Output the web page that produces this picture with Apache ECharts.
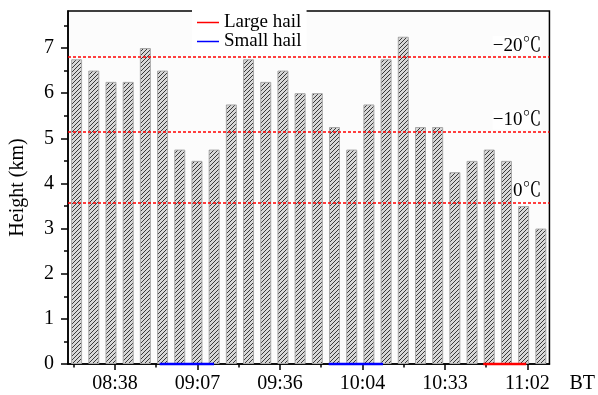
<!DOCTYPE html>
<html><head><meta charset="utf-8">
<script src="https://cdn.jsdelivr.net/npm/echarts@6/dist/echarts.min.js"></script>
<style>html,body{margin:0;padding:0;background:#fff}#c{width:598px;height:395px}</style>
</head><body><div id="c"></div>
<script>
// radar volume scans (6-min interval), echo-top heights in km
const scans = ['1','2','3','4','5','6','7','8','9','10','11','12','13','14','15','16','17','18','19','20','21','22','23','24','25','26','27','28'];
const heights = [6.75,6.5,6.25,6.25,7.0,6.5,4.75,4.5,4.75,5.75,6.75,6.25,6.5,6.0,6.0,5.25,4.75,5.75,6.75,7.25,5.25,5.25,4.25,4.5,4.75,4.5,3.5,3.0];
// isotherm heights (km) and labels
const isoHeights = [6.8, 5.15, 3.58];
const isoLabels = ['\u221220\u2103', '\u221210\u2103', '0\u2103'];
// time axis (fraction of a day, BT)
const timeMin = 0.34862, timeMax = 0.46534;
const timeTicks = [0.36, 0.38, 0.40, 0.42, 0.44, 0.46];
const timeMinorTicks = [0.35, 0.37, 0.39, 0.41, 0.43, 0.45];
const yTicks = [0,1,2,3,4,5,6,7];
const yMinorTicks = [0.5,1.5,2.5,3.5,4.5,5.5,6.5,7.5];
// hail periods
const largeHail = [['10:47','11:02']];
const smallHail = [['08:54','09:13'],['09:53','10:12']];

const FONT = '"Liberation Serif", "Times New Roman", "Noto Serif CJK SC", "Noto Sans CJK SC", serif';
function toDay(hm){ const p = hm.split(':').map(Number); return (p[0]*60 + p[1]) / 1440; }
function fmt(v){ const mins = Math.floor(v*1440 + 1e-6); const h = Math.floor(mins/60), m = mins % 60;
  return String(h).padStart(2,'0') + ':' + String(m).padStart(2,'0'); }

// hatch tile ("/" diagonal lines)
const tile = document.createElement('canvas');
tile.width = 4; tile.height = 4;
const tc = tile.getContext('2d');
tc.fillStyle = '#d8d8d8'; tc.fillRect(0,0,4,4);
tc.fillStyle = '#3a3a3a';
for (let i = 0; i < 4; i++) tc.fillRect(i, 3 - i, 1, 1);

const hailSeries = [];
largeHail.forEach(s => hailSeries.push({name:'Large hail', type:'line', xAxisIndex:1, yAxisIndex:0, symbol:'none', clip:false, z:5,
  lineStyle:{color:'#ff0000', width:2.5}, itemStyle:{color:'#ff0000'}, data:[[toDay(s[0]),0],[toDay(s[1]),0]]}));
smallHail.forEach(s => hailSeries.push({name:'Small hail', type:'line', xAxisIndex:1, yAxisIndex:0, symbol:'none', clip:false, z:5,
  lineStyle:{color:'#0000ff', width:2.5}, itemStyle:{color:'#0000ff'}, data:[[toDay(s[0]),0],[toDay(s[1]),0]]}));

const chart = echarts.init(document.getElementById('c'), null, {renderer:'canvas'});
chart.setOption({
  animation:false,
  backgroundColor:'#ffffff',
  textStyle:{fontFamily:FONT, color:'#000'},
  grid:{left:68, right:48, top:11, bottom:31, show:true, borderColor:'#000', borderWidth:1.5, backgroundColor:'#fcfcfc'},
  legend:{data:['Large hail','Small hail'], orient:'vertical', left:192, top:8, padding:5, itemGap:0, itemWidth:22, itemHeight:1.5,
    icon:'rect', itemTextGap:2, backgroundColor:'#ffffff',
    textStyle:{fontFamily:FONT, fontSize:19, color:'#000', lineHeight:17}},
  xAxis:[
    {type:'category', data:scans, show:false, boundaryGap:true},
    {type:'value', min:timeMin, max:timeMax, position:'bottom',
      axisLine:{show:true, lineStyle:{color:'#000', width:1.5}},
      axisTick:{show:true, customValues:timeTicks, length:6, inside:false, lineStyle:{color:'#000', width:1.5}},
      axisLabel:{customValues:timeTicks, formatter:fmt, fontFamily:FONT, fontSize:20, color:'#000', margin:10},
      splitLine:{show:false},
      name:'BT', nameLocation:'end', nameGap:20,
      nameTextStyle:{fontFamily:FONT, fontSize:20, color:'#000', verticalAlign:'top', padding:[10,0,0,0]}},
    {type:'value', min:timeMin, max:timeMax, position:'bottom',
      axisLine:{show:false},
      axisTick:{show:true, customValues:timeMinorTicks, length:3.5, inside:false, lineStyle:{color:'#000', width:1.5}},
      axisLabel:{show:false}, splitLine:{show:false}}
  ],
  yAxis:[
    {type:'value', min:0, max:7.82, position:'left',
      axisLine:{show:true, lineStyle:{color:'#000', width:1.5}},
      axisTick:{show:true, customValues:yTicks, length:7, inside:false, lineStyle:{color:'#000', width:1.5}},
      axisLabel:{customValues:yTicks, fontFamily:FONT, fontSize:20, color:'#000', margin:14},
      splitLine:{show:false},
      name:'Height (km)', nameLocation:'middle', nameGap:40,
      nameTextStyle:{fontFamily:FONT, fontSize:20, color:'#000'}},
    {type:'value', min:0, max:7.82, position:'left',
      axisLine:{show:false},
      axisTick:{show:true, customValues:yMinorTicks, length:4, inside:false, lineStyle:{color:'#000', width:1.5}},
      axisLabel:{show:false}, splitLine:{show:false}}
  ],
  series:[
    {type:'bar', name:'Echo top', xAxisIndex:0, yAxisIndex:0, data:heights, barWidth:11,
      itemStyle:{color:{image:tile, repeat:'repeat'}, borderColor:'#a8a8a8', borderWidth:1},
      markLine:{silent:true, symbol:'none', animation:false,
        lineStyle:{color:'#ff0000', type:[3,2], width:1.5},
        label:{show:true, position:'insideEndTop', formatter:p => p.name, fontFamily:FONT, fontSize:19, color:'#000',
          backgroundColor:'#ffffff', distance:[8,2]},
        data:isoHeights.map((h,i) => ({yAxis:h, name:isoLabels[i]}))}},
    ...hailSeries
  ]
});
</script></body></html>
